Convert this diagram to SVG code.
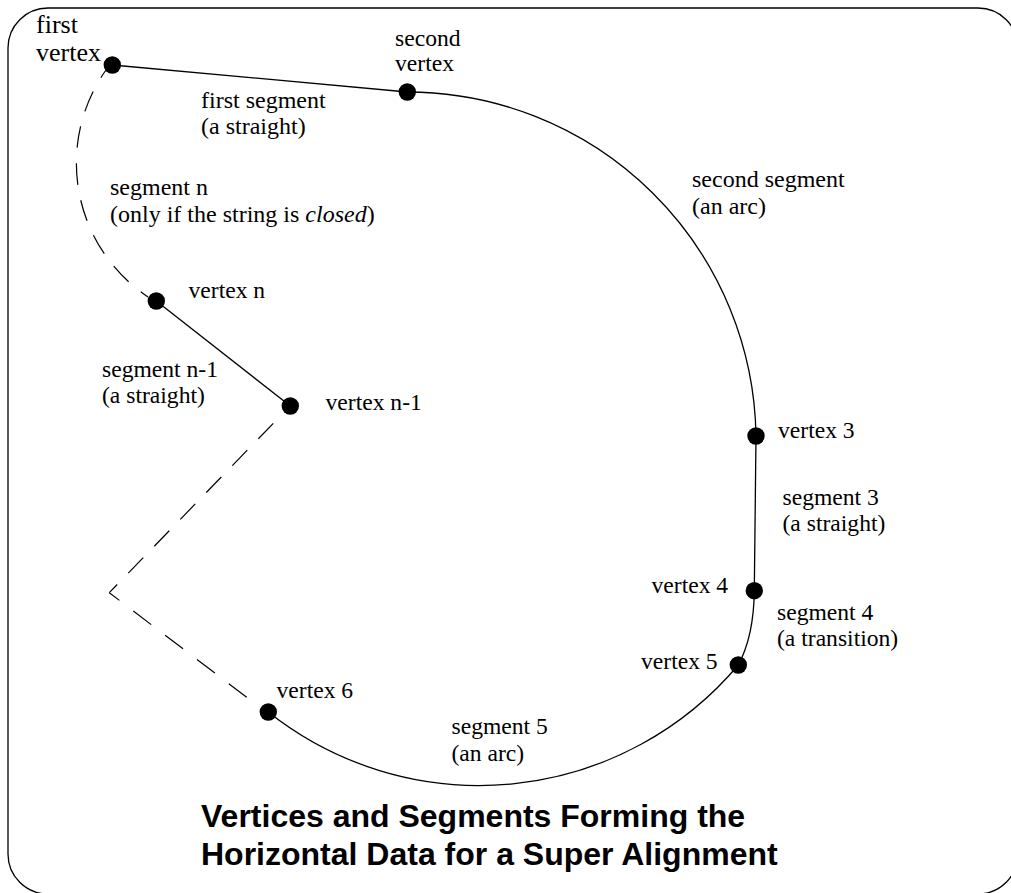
<svg xmlns="http://www.w3.org/2000/svg" width="1011" height="893" viewBox="0 0 1011 893">
<style>
.t{font-family:"Liberation Serif","Times New Roman",serif;font-size:23.6px;fill:#000}
.w{font-size:24px}
.b{font-size:26px}
.h{font-family:"Liberation Sans",Arial,sans-serif;font-size:32px;font-weight:bold;fill:#000}
.l{fill:none;stroke:#000;stroke-width:1.3}
.d{fill:none;stroke:#000;stroke-width:1.2}
.v{fill:#000}
</style>
<rect width="1011" height="893" fill="#fff"/>
<rect x="8" y="8" width="1010" height="886" rx="40" ry="40" fill="none" stroke="#000" stroke-width="1.3"/>
<g id="connectors">
<path class="l" d="M112.300 65L407.300 92"/>
<path class="l" d="M407.300 92A349 349 0 0 1 756 436"/>
<path class="l" d="M756 436L754.300 590.700"/>
<path class="l" d="M754.300 590.700C754 620 749 645 738.300 665"/>
<path class="l" d="M738.300 665A339 339 0 0 1 268.300 712"/>
<path class="l" d="M156.300 301L290.300 406"/>
<path class="d" stroke-dasharray="21.500 15.700" stroke-dashoffset="12.500" d="M148 297A161 161 0 0 1 106 70"/>
<path class="d" stroke-dasharray="22.500 17.500" d="M246.700 697.300L109.300 592.700"/>
<path class="d" stroke-dasharray="21.500 15.900" d="M273.300 423.300L109.300 592.700"/>
</g>
<g id="vertex-1"><circle class="v" cx="112.300" cy="65" r="8.700"/><text class="t b" x="36" y="33">first</text><text class="t b" x="36" y="61">vertex</text></g>
<g id="vertex-2"><circle class="v" cx="407.300" cy="92" r="8.700"/><text class="t" x="395" y="46">second</text><text class="t" x="395" y="71">vertex</text></g>
<g id="vertex-3"><circle class="v" cx="756" cy="436" r="8.700"/><text class="t" x="778" y="438">vertex 3</text></g>
<g id="vertex-4"><circle class="v" cx="754.300" cy="590.700" r="8.700"/><text class="t" x="651.500" y="593">vertex 4</text></g>
<g id="vertex-5"><circle class="v" cx="738.300" cy="665" r="8.700"/><text class="t" x="641" y="669">vertex 5</text></g>
<g id="vertex-6"><circle class="v" cx="268.300" cy="712" r="8.700"/><text class="t" x="276.500" y="698">vertex 6</text></g>
<g id="vertex-n-1"><circle class="v" cx="290.300" cy="406" r="8.700"/><text class="t" x="325.500" y="410">vertex n-1</text></g>
<g id="vertex-n"><circle class="v" cx="156.300" cy="301" r="8.700"/><text class="t" x="188.500" y="298">vertex n</text></g>
<g id="labels">
<text class="t w" x="201" y="108">first segment</text><text class="t w" x="201" y="134">(a straight)</text>
<text class="t w" x="692" y="187">second segment</text><text class="t w" x="692" y="214">(an arc)</text>
<text class="t w" x="110" y="195">segment n</text><text class="t w" x="110" y="222">(only if the string is <tspan font-style="italic">closed</tspan>)</text>
<text class="t" x="102" y="377">segment n-1</text><text class="t" x="102" y="403">(a straight)</text>
<text class="t" x="782.500" y="505">segment 3</text><text class="t" x="782.500" y="531">(a straight)</text>
<text class="t" x="777" y="620">segment 4</text><text class="t" x="777" y="646">(a transition)</text>
<text class="t" x="451.500" y="734">segment 5</text><text class="t" x="451.500" y="761">(an arc)</text>
<text class="h" x="201" y="827">Vertices and Segments Forming the</text><text class="h" x="201" y="865">Horizontal Data for a Super Alignment</text>
</g>
</svg>
